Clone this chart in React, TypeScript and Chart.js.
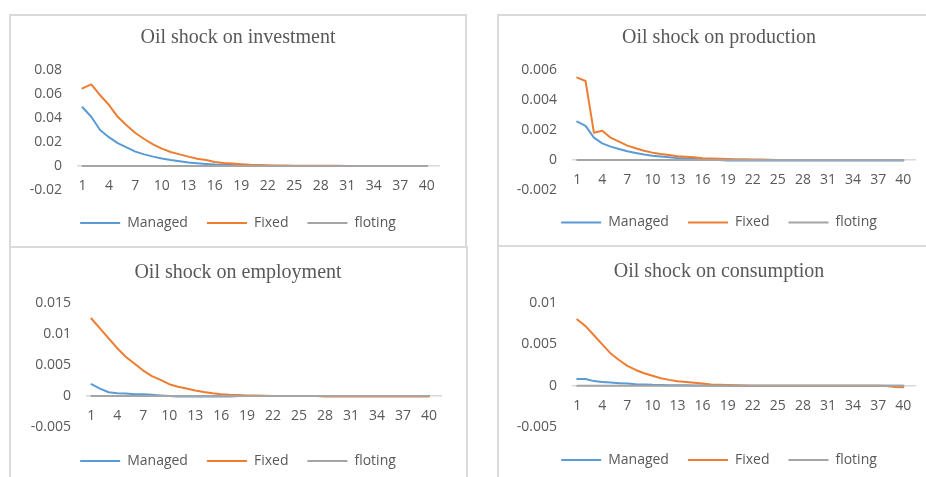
import React, { useEffect, useRef } from "react";
import { Chart, registerables } from "chart.js";

Chart.register(...registerables);

// ---------- data ----------
const periods = [
  1, 2, 3, 4, 5, 6, 7, 8, 9, 10, 11, 12, 13, 14, 15, 16, 17, 18, 19, 20,
  21, 22, 23, 24, 25, 26, 27, 28, 29, 30, 31, 32, 33, 34, 35, 36, 37, 38, 39, 40,
];
const xTickValues = [1, 4, 7, 10, 13, 16, 19, 22, 25, 28, 31, 34, 37, 40];
const seriesNames = ["Managed", "Fixed", "floting"];

const investmentManaged = [
  0.049, 0.041, 0.03, 0.024, 0.019, 0.0155, 0.012, 0.0097, 0.0078, 0.0062,
  0.005, 0.004, 0.003, 0.0023, 0.0017, 0.0012, 0.001, 0.0008, 0.0005, 0.0003,
  0.0002, 0.0001, 0.0001, 0, 0, 0, 0, 0, 0, 0,
  0, 0, 0, 0, 0, 0, 0, 0, 0, 0,
];
const investmentFixed = [
  0.0647, 0.068, 0.059, 0.051, 0.041, 0.034, 0.0275, 0.0225, 0.018, 0.0145,
  0.0117, 0.0097, 0.0078, 0.006, 0.005, 0.0033, 0.0025, 0.002, 0.0015, 0.001,
  0.0008, 0.0007, 0.0005, 0.0004, 0.0003, 0.0003, 0.0003, 0.0003, 0.0003, 0.0002,
  0.0001, 0, 0, 0, 0, 0, 0, 0, 0, 0,
];
const investmentFloting = [
  0, 0, 0, 0, 0, 0, 0, 0, 0, 0, 0, 0, 0, 0, 0, 0, 0, 0, 0, 0,
  0, 0, 0, 0, 0, 0, 0, 0, 0, 0, 0, 0, 0, 0, 0, 0, 0, 0, 0, 0,
];
const investmentTicks = [-0.02, 0, 0.02, 0.04, 0.06, 0.08];

const productionManaged = [
  0.00256, 0.00227, 0.00149, 0.00111, 0.00089, 0.00073, 0.00058, 0.00047, 0.00036, 0.00029,
  0.00024, 0.00018, 0.00013, 0.0001, 0.00007, 0.00004, 0.00002, 0, -0.00003, -0.00003,
  -0.00003, -0.00003, -0.00003, -0.00003, -0.00003, -0.00003, -0.00003, -0.00003, -0.00003, -0.00003,
  -0.00003, -0.00003, -0.00003, -0.00003, -0.00003, -0.00003, -0.00003, -0.00003, -0.00003, -0.00003,
];
const productionFixed = [
  0.00549, 0.00527, 0.00182, 0.00195, 0.00149, 0.00122, 0.00096, 0.00078, 0.00062, 0.00049,
  0.0004, 0.00033, 0.00025, 0.00022, 0.00018, 0.00012, 0.0001, 0.00008, 0.00006, 0.00005,
  0.00005, 0.00004, 0.00003, 0.00001, 0, 0, 0, 0, 0, 0,
  0, 0, 0, 0, 0, 0, 0, 0, 0, 0,
];
const productionFloting = [
  0, 0, 0, 0, 0, 0, 0, 0, 0, 0, 0, 0, 0, 0, 0, 0, 0, 0, 0, 0,
  0, 0, 0, 0, 0, 0, 0, 0, 0, 0, 0, 0, 0, 0, 0, 0, 0, 0, 0, 0,
];
const productionTicks = [-0.002, 0, 0.002, 0.004, 0.006];

const employmentManaged = [
  0.0019, 0.0012, 0.0006, 0.00043, 0.0004, 0.0003, 0.0003, 0.0002, 0.0001, 0,
  -0.0001, -0.0001, -0.0001, -0.0001, -0.0001, -0.0001, -0.0001, 0, 0, 0,
  0, 0, 0, 0, 0, 0, 0, 0, 0, 0,
  0, 0, 0, 0, 0, 0, 0, 0, 0, 0,
];
const employmentFixed = [
  0.0125, 0.0109, 0.0093, 0.0077, 0.0063, 0.0052, 0.0041, 0.0032, 0.0026, 0.0019,
  0.0015, 0.0012, 0.0009, 0.00065, 0.00045, 0.0003, 0.0002, 0.00015, 0.0001, 0.0001,
  0.00005, 0, 0, 0, 0, 0, 0, -0.0001, -0.0001, -0.0001,
  -0.0001, -0.0001, -0.0001, -0.0001, -0.0001, -0.0001, -0.0001, -0.0001, -0.0001, -0.0001,
];
const employmentFloting = [
  0, 0, 0, 0, 0, 0, 0, 0, 0, 0, 0, 0, 0, 0, 0, 0, 0, 0, 0, 0,
  0, 0, 0, 0, 0, 0, 0, 0, 0, 0, 0, 0, 0, 0, 0, 0, 0, 0, 0, 0,
];
const employmentTicks = [-0.005, 0, 0.005, 0.01, 0.015];

const consumptionManaged = [
  0.00081, 0.00081, 0.00055, 0.00045, 0.00037, 0.0003, 0.00025, 0.00018, 0.00015, 0.0001,
  0.00008, 0.00006, 0.00005, 0.00004, 0.00003, 0.00002, 0.00001, 0, 0, 0,
  0, 0, 0, 0, 0, 0, 0, 0, 0, 0,
  0, 0, 0, 0, 0, 0, 0, 0, 0, 0,
];
const consumptionFixed = [
  0.008, 0.0072, 0.0061, 0.005, 0.0039, 0.0031, 0.0024, 0.0019, 0.0015, 0.0012,
  0.0009, 0.0007, 0.00053, 0.00045, 0.00035, 0.00025, 0.00015, 0.00012, 0.00008, 0.00006,
  0.00003, 0, 0, 0, 0, 0, 0, 0, 0, 0,
  0, 0, 0, 0, 0, 0, 0, -0.00005, -0.00015, -0.0002,
];
const consumptionFloting = [
  0, 0, 0, 0, 0, 0, 0, 0, 0, 0, 0, 0, 0, 0, 0, 0, 0, 0, 0, 0,
  0, 0, 0, 0, 0, 0, 0, 0, 0, 0, 0, 0, 0, 0, 0, 0, 0, 0, 0, 0,
];
const consumptionTicks = [-0.005, 0, 0.005, 0.01];

// ---------- styles / layout ----------
const COLORS = ["#5B9BD5", "#ED7D31", "#A5A5A5"];
const TEXT = "#595959";
const BORDER = "#d9d9d9";
const SANS = "'Open Sans', 'Noto Sans', sans-serif";
const SERIF = "'Liberation Serif', 'DejaVu Serif', serif";

type Rect = { left: number; top: number; width: number; height: number };
type PanelCfg = {
  title: string;
  series: number[][];
  yTicks: number[];
  box: Rect;
  canvas: Rect;
  yAxisWidth: number;
  rightWidth: number;
  bottomPad: number;
  titlePad: { top: number; bottom: number };
  legendGap: number;
};

const panels: PanelCfg[] = [
  {
    title: "Oil shock on investment",
    series: [investmentManaged, investmentFixed, investmentFloting],
    yTicks: investmentTicks,
    box: { left: 9, top: 14, width: 458, height: 234 },
    canvas: { left: 11, top: 16, width: 454, height: 230 },
    yAxisWidth: 67,
    rightWidth: 26,
    bottomPad: 6,
    titlePad: { top: 10, bottom: 20 },
    legendGap: 7,
  },
  {
    title: "Oil shock on production",
    series: [productionManaged, productionFixed, productionFloting],
    yTicks: productionTicks,
    box: { left: 497, top: 14, width: 500, height: 234 },
    canvas: { left: 499, top: 16, width: 440, height: 230 },
    yAxisWidth: 74,
    rightWidth: 24,
    bottomPad: 6.5,
    titlePad: { top: 10, bottom: 20 },
    legendGap: 6.5,
  },
  {
    title: "Oil shock on employment",
    series: [employmentManaged, employmentFixed, employmentFloting],
    yTicks: employmentTicks,
    box: { left: 9, top: 246, width: 459, height: 260 },
    canvas: { left: 11, top: 249, width: 454, height: 232 },
    yAxisWidth: 76,
    rightWidth: 24,
    bottomPad: 3,
    titlePad: { top: 12, bottom: 18 },
    legendGap: 8,
  },
  {
    title: "Oil shock on consumption",
    series: [consumptionManaged, consumptionFixed, consumptionFloting],
    yTicks: consumptionTicks,
    box: { left: 497, top: 245, width: 500, height: 260 },
    canvas: { left: 499, top: 249, width: 440, height: 232 },
    yAxisWidth: 74,
    rightWidth: 24,
    bottomPad: 4,
    titlePad: { top: 11, bottom: 19 },
    legendGap: 7,
  },
];

function Panel({ cfg }: { cfg: PanelCfg }) {
  const ref = useRef<HTMLCanvasElement>(null);
  useEffect(() => {
    const yMin = Math.min(...cfg.yTicks);
    const yMax = Math.max(...cfg.yTicks);
    const tickFont = { family: SANS, size: 14 };
    const chart = new Chart(ref.current as HTMLCanvasElement, {
      type: "line",
      data: {
        labels: periods,
        datasets: cfg.series.map((values, i) => ({
          label: seriesNames[i],
          data: values,
          borderColor: COLORS[i],
          backgroundColor: COLORS[i],
          borderWidth: 2,
          pointRadius: 0,
          pointHoverRadius: 0,
          tension: 0,
          fill: false,
          borderCapStyle: "round",
          borderJoinStyle: "round",
          order: 3 - i,
        })),
      },
      options: {
        animation: false,
        responsive: false,
        maintainAspectRatio: false,
        devicePixelRatio: 1,
        events: [],
        layout: {
          padding: { left: 0, right: 0, top: 0, bottom: cfg.bottomPad },
        },
        scales: {
          x: {
            type: "linear",
            min: 0.5,
            max: 41.4,
            position: { y: 0 } as any,
            grid: { display: true, color: "rgba(0,0,0,0)", drawTicks: false },
            border: { display: true, color: BORDER, width: 1.5 },
            ticks: {
              padding: 12,
              autoSkip: false,
              maxRotation: 0,
              minRotation: 0,
              color: TEXT,
              font: tickFont,
              callback: (v: any) => String(v),
            },
            afterBuildTicks: (axis: any) => {
              axis.ticks = xTickValues.map((v) => ({ value: v }));
            },
          },
          y: {
            type: "linear",
            position: "left",
            min: yMin,
            max: yMax,
            grid: { display: false, drawTicks: false },
            border: { display: false },
            ticks: {
              padding: 16,
              color: TEXT,
              font: tickFont,
              callback: (v: any) => String(v),
            },
            afterBuildTicks: (axis: any) => {
              axis.ticks = cfg.yTicks.map((v) => ({ value: v }));
            },
            afterFit: (axis: any) => {
              axis.width = cfg.yAxisWidth;
            },
          },
          yRight: {
            type: "linear",
            position: "right",
            display: true,
            grid: { display: false, drawTicks: false },
            border: { display: false },
            ticks: { display: false },
            afterFit: (axis: any) => {
              axis.width = cfg.rightWidth;
            },
          },
        },
        plugins: {
          title: {
            display: true,
            text: cfg.title,
            color: TEXT,
            font: { family: SERIF, size: 20, weight: "normal", lineHeight: 1.2 },
            padding: cfg.titlePad,
          },
          legend: {
            display: true,
            position: "bottom",
            title: {
              display: true,
              text: "",
              padding: { top: cfg.legendGap - 1, bottom: 0 },
              font: { size: 1, lineHeight: 1 },
            },
            labels: {
              usePointStyle: true,
              pointStyle: "line",
              pointStyleWidth: 40,
              padding: 19,
              color: TEXT,
              font: tickFont,
              sort: (a: any, b: any) => a.datasetIndex - b.datasetIndex,
            },
          },
          tooltip: { enabled: false },
        },
      } as any,
    });
    return () => chart.destroy();
  }, [cfg]);

  return (
    <>
      <div
        style={{
          position: "absolute",
          left: cfg.box.left,
          top: cfg.box.top,
          width: cfg.box.width,
          height: cfg.box.height,
          border: `2px solid ${BORDER}`,
          boxSizing: "border-box",
          background: "#fff",
        }}
      />
      <canvas
        ref={ref}
        width={cfg.canvas.width}
        height={cfg.canvas.height}
        style={{
          position: "absolute",
          left: cfg.canvas.left,
          top: cfg.canvas.top,
          width: cfg.canvas.width,
          height: cfg.canvas.height,
        }}
      />
    </>
  );
}

export default function App() {
  return (
    <div
      style={{
        position: "absolute",
        left: 0,
        top: 0,
        width: 926,
        height: 477,
        overflow: "hidden",
        background: "#fff",
      }}
    >
      {panels.map((p) => (
        <Panel key={p.title} cfg={p} />
      ))}
    </div>
  );
}
